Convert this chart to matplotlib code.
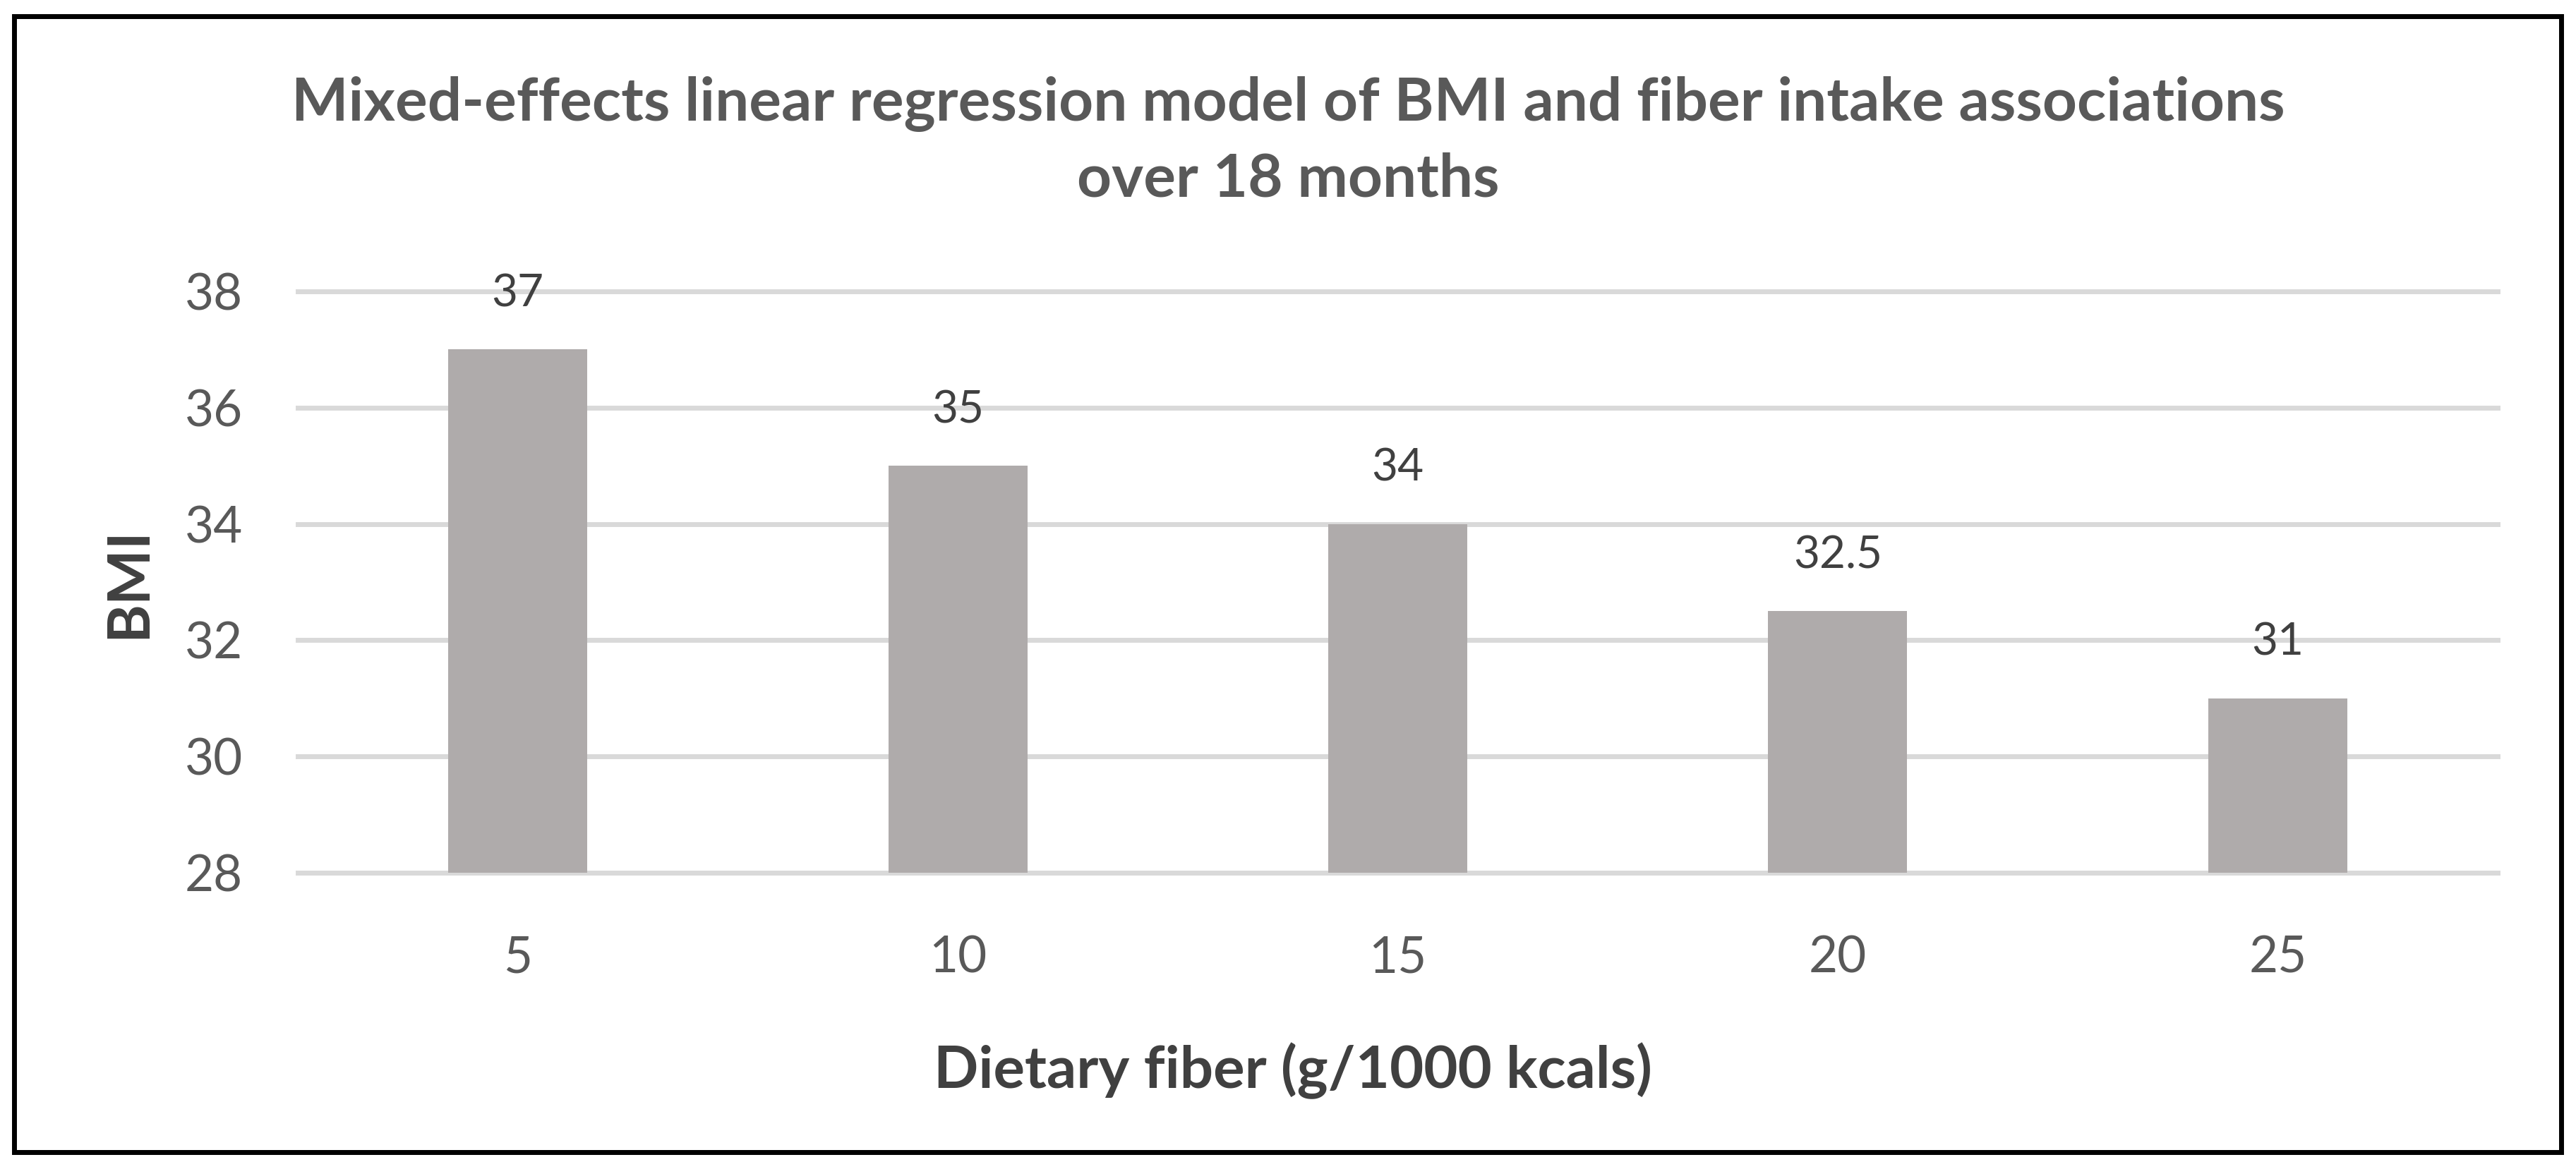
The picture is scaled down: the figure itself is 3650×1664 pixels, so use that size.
import matplotlib
matplotlib.use("Agg")
import matplotlib.pyplot as plt
from matplotlib.patches import Rectangle

plt.rcParams["font.family"] = ["Lato", "DejaVu Sans"]

# data
fiber_levels = ["5", "10", "15", "20", "25"]
bmi_values = [37, 35, 34, 32.5, 31]
bmi_ticks = [28, 30, 32, 34, 36, 38]

title = "Mixed-effects linear regression model of BMI and fiber intake associations\nover 18 months"
x_label = "Dietary fiber (g/1000 kcals)"
y_label = "BMI"

bar_color = "#AFABAB"
grid_color = "#D9D9D9"
light_text = "#595959"
dark_text = "#404040"

fig = plt.figure(figsize=(36.5, 16.64), dpi=100)
ax = fig.add_axes([0.1156, 0.2566, 0.854, 0.4952])

positions = list(range(len(fiber_levels)))
for tick in bmi_ticks:
    ax.axhline(tick, color=grid_color, linewidth=5, zorder=1, clip_on=False)

bars = ax.bar(positions, bmi_values, width=0.316, bottom=0, color=bar_color, zorder=2)

for pos, val in zip(positions, bmi_values):
    label = f"{val:g}"
    ax.annotate(label, xy=(pos, val), xytext=(0, 57), textcoords="offset points",
                ha="center", va="center", fontsize=46, color=dark_text)

ax.set_xlim(-0.5, len(fiber_levels) - 0.5)
ax.set_ylim(bmi_ticks[0], bmi_ticks[-1])
ax.set_xticks(positions)
ax.set_xticklabels(fiber_levels)
ax.set_yticks(bmi_ticks)
ax.tick_params(axis="both", length=0, labelsize=51, labelcolor=light_text)
ax.tick_params(axis="y", pad=56)
ax.tick_params(axis="x", pad=64)
for spine in ax.spines.values():
    spine.set_visible(False)

fig.text(0.5, 0.880, title, ha="center", va="center", fontsize=61.5,
         fontweight="bold", color=light_text, linespacing=1.48)
fig.text(0.0501, 0.504, y_label, ha="center", va="center", rotation=90,
         fontsize=60, fontweight="bold", color=dark_text)
fig.text(0.502, 0.0733, x_label, ha="center", va="baseline",
         fontsize=60, fontweight="bold", color=dark_text)

fig.patches.append(Rectangle((0.0055, 0.0186), 0.9888, 0.9675, transform=fig.transFigure,
                             fill=False, edgecolor="black", linewidth=5))

fig.savefig("out.png", dpi=100, facecolor="white")
